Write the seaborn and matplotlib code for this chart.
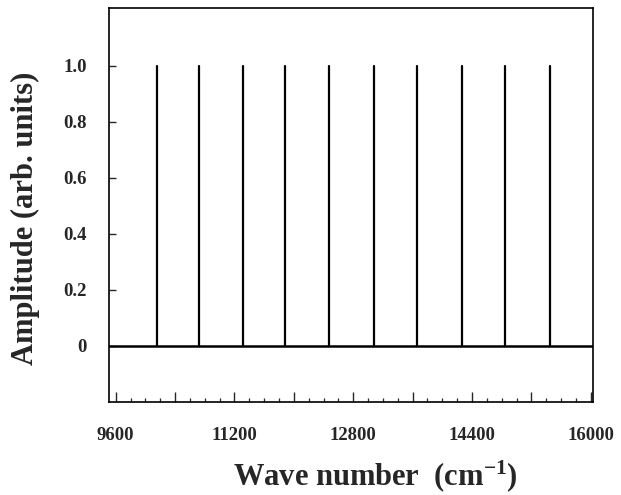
"""
Stick spectrum: equally spaced lines of unit amplitude vs wave number.
"""

import numpy as np
import pandas as pd
import matplotlib
matplotlib.use('Agg')
import matplotlib.pyplot as plt
import seaborn as sns
from matplotlib.ticker import MultipleLocator, FuncFormatter

# Data
peak_positions = [10150, 10720, 11310, 11880, 12470, 13080, 13660, 14260, 14850, 15450]
peak_amplitudes = [1.0, 1.0, 1.0, 1.0, 1.0, 1.0, 1.0, 1.0, 1.0, 1.0]
y_ticks = [0, 0.2, 0.4, 0.6, 0.8, 1.0]
y_tick_labels = ['0', '0.2', '0.4', '0.6', '0.8', '1.0']
x_labelled = [9600, 11200, 12800, 14400, 16000]

# Style
sns.set_style('white')
plt.rcParams['font.family'] = ['Liberation Serif', 'DejaVu Serif']
plt.rcParams['font.weight'] = 'bold'
plt.rcParams['mathtext.fontset'] = 'custom'
plt.rcParams['mathtext.rm'] = 'Liberation Serif:bold'
plt.rcParams['mathtext.it'] = 'Liberation Serif:bold'
plt.rcParams['mathtext.bf'] = 'Liberation Serif:bold'


def build_sticks(positions, amplitudes) -> pd.DataFrame:
    """Two points (0 and amplitude) per peak, one unit per stick."""
    rows = []
    for i, (x, a) in enumerate(zip(positions, amplitudes)):
        rows.append({'peak': i, 'wn': x, 'amp': 0.0})
        rows.append({'peak': i, 'wn': x, 'amp': a})
    return pd.DataFrame(rows)


def main():
    df = build_sticks(peak_positions, peak_amplitudes)

    fig = plt.figure(figsize=(6.21, 4.95), dpi=100)
    ax = fig.add_axes([0.1755, 0.1885, 0.7795, 0.7945])

    sns.lineplot(data=df, x='wn', y='amp', units='peak', estimator=None,
                 sort=False, color='black', linewidth=1.6, ax=ax, legend=False)
    ax.axhline(0, color='black', linewidth=1.8, zorder=1)

    ax.set_xlim(9510, 16030)
    ax.set_ylim(-0.2, 1.205)

    # x ticks: long every 800, short every 200, labels every 1600
    ax.xaxis.set_major_locator(MultipleLocator(800))
    ax.xaxis.set_minor_locator(MultipleLocator(200))
    ax.xaxis.set_major_formatter(FuncFormatter(
        lambda v, p: f'{int(round(v))}' if int(round(v)) in x_labelled else ''))
    ax.set_yticks(y_ticks)
    ax.set_yticklabels(y_tick_labels)

    ax.tick_params(axis='x', which='major', direction='in', length=7, width=1.0,
                   pad=18, labelsize=13.5, bottom=True)
    ax.tick_params(axis='x', which='minor', direction='in', length=3.2, width=0.9,
                   bottom=True)
    ax.tick_params(axis='y', which='major', direction='in', length=5, width=1.0,
                   pad=16, labelsize=13.5, left=True)

    for lbl in ax.get_xticklabels() + ax.get_yticklabels():
        lbl.set_fontweight('bold')

    for side in ax.spines.values():
        side.set_visible(True)
        side.set_color('black')
        side.set_linewidth(1.2)

    ax.set_xlabel(r'Wave number  (cm$^{-1}$)', fontsize=22, fontweight='bold')
    ax.set_ylabel('Amplitude (arb. units)', fontsize=22, fontweight='bold')
    ax.xaxis.set_label_coords(0.55, -0.143)
    ax.yaxis.set_label_coords(-0.143, 0.467)

    fig.savefig('out.png', dpi=100, facecolor='white')
    plt.close(fig)


if __name__ == "__main__":
    main()
